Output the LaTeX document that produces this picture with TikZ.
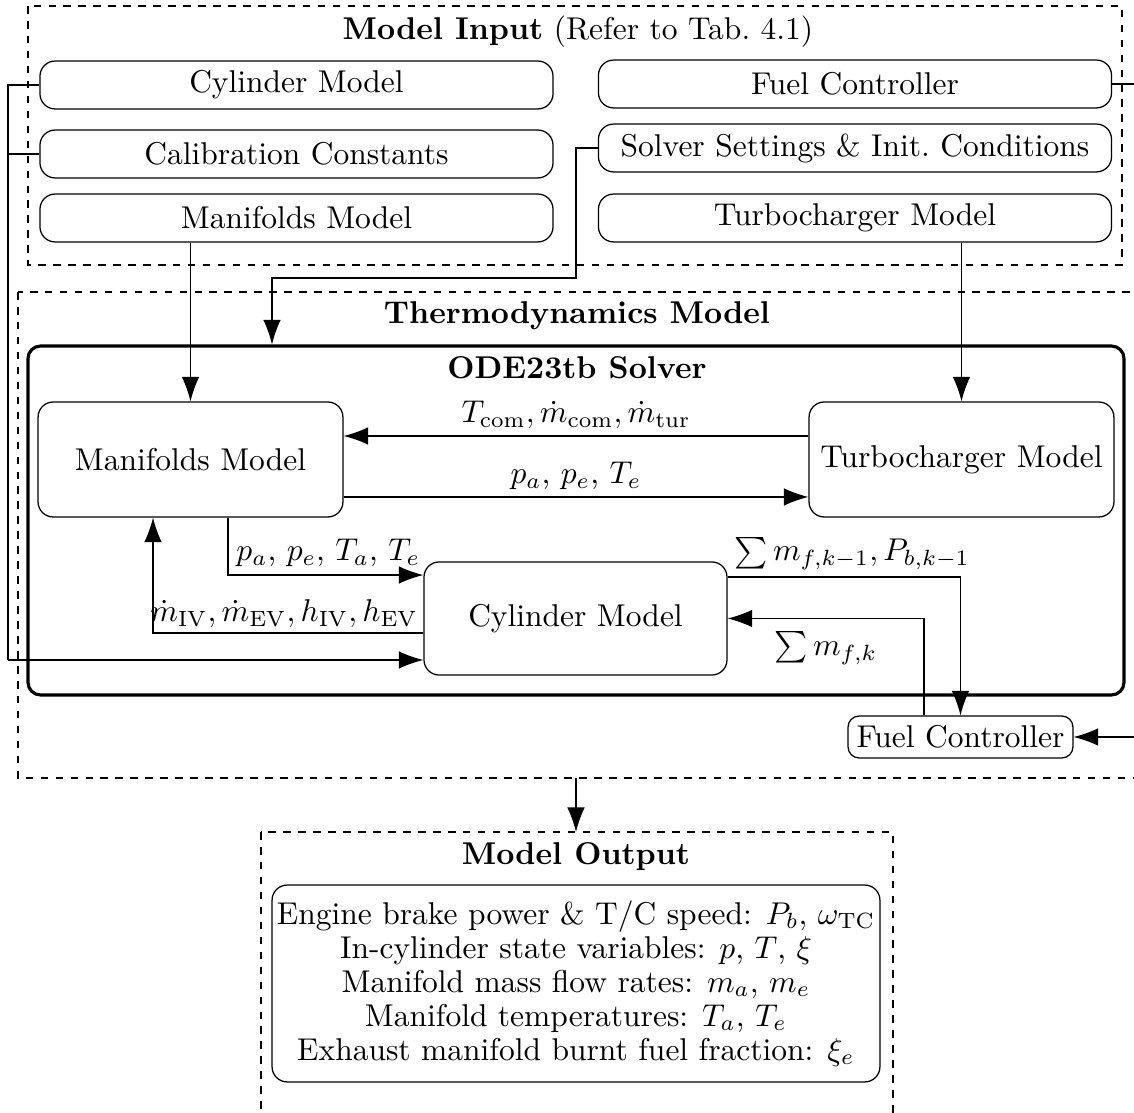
\documentclass[tikz,border=0pt]{standalone}
\usepackage{amsmath}
\usetikzlibrary{arrows.meta,calc}
\begin{document}
\begin{tikzpicture}[x=0.3175pt,y=-0.3175pt,
  inbox/.style={draw, rounded corners=4.8pt, minimum width=162.9pt, minimum height=15.2pt, inner sep=0pt},
  blockbox/.style={draw, rounded corners=4.8pt, minimum width=96.8pt, minimum height=36.5pt, inner sep=0pt},
  frame/.style={draw, line width=0.35pt, dash pattern=on 2.4pt off 2.35pt},
  flow/.style={-{Latex[length=7.8pt,width=5.6pt]}},
  lbl/.style={inner sep=2pt},
]
\useasboundingbox (0,0) rectangle (1134,1113);
\clip (0,0) rectangle (1134,1113);

% ---------------- model input ----------------
\draw[frame] (28,6) rectangle (1122,265);
\node (intitle) at (578,32) {\textbf{Model Input} (Refer to Tab.~4.1)};
\node[inbox] (icyl)   at (296.5,85)  {Cylinder Model};
\node[inbox] (ical)   at (296.5,154) {Calibration Constants};
\node[inbox] (iman)   at (296.5,218) {Manifolds Model};
\node[inbox] (ifuel)  at (855,84)    {Fuel Controller};
\node[inbox] (isolv)  at (855,148)   {Solver Settings \& Init.\ Conditions};
\node[inbox] (iturbo) at (855,218)   {Turbocharger Model};

% ---------------- thermodynamics model ----------------
\draw[frame] (18,292) rectangle (1150,778);
\node (thtitle) at (577,316) {\textbf{Thermodynamics Model}};
\node[draw, line width=1pt, rounded corners=4pt, minimum width=348pt, minimum height=110.8pt, inner sep=0pt] (solver) at (576,520.5) {};
\node (soltitle) at (577,368) {\textbf{ODE23tb Solver}};

\node[blockbox] (mm) at (190.5,459.5) {Manifolds Model};
\node[blockbox] (tc) at (961.5,459.5) {Turbocharger Model};
\node[blockbox, minimum width=96.2pt, minimum height=35.9pt] (cm) at (575.5,618.5) {Cylinder Model};
\node[draw, rounded corners=3.5pt, minimum width=71.4pt, minimum height=13.3pt, inner sep=0pt] (fc) at (960.5,737) {Fuel Controller};

% manifolds <-> turbocharger
\draw[flow] ([yshift=7.46pt]tc.west) -- node[above, lbl] {$T_{\mathrm{com}}, \dot{m}_{\mathrm{com}}, \dot{m}_{\mathrm{tur}}$} ([yshift=7.46pt]mm.east);
\draw[flow] ([yshift=-11.9pt]mm.east) -- node[above, lbl] {$p_a$, $p_e$, $T_e$} ([yshift=-11.9pt]tc.west);

% manifolds <-> cylinder
\draw[flow] ([xshift=11.9pt]mm.south) |- node[pos=0.5, anchor=south west, inner sep=2.5pt] {$p_a$, $p_e$, $T_a$, $T_e$} ([yshift=13.8pt]cm.west);
\draw[flow] ([yshift=-4.6pt]cm.west) node[anchor=south east, inner sep=1.5pt] {$\dot{m}_{\mathrm{IV}}, \dot{m}_{\mathrm{EV}}, h_{\mathrm{IV}}, h_{\mathrm{EV}}$} -| ([xshift=-11.9pt]mm.south);

% cylinder <-> fuel controller
\draw[flow] ([yshift=13.2pt]cm.east) node[anchor=south west, inner sep=2pt] {$\sum m_{f,k-1}, P_{b,k-1}$} -| (fc.north);
\draw[flow] ([xshift=-11.6pt]fc.north) |- node[pos=0.75, below, inner sep=4pt] {$\sum m_{f,k}$} (cm.east);

% inputs feeding the solver
\coordinate (bus) at (8,660);
\draw (icyl.west) -| (bus);
\draw (ical.west) -- (ical.west -| bus);
\draw[flow] (bus) -- (bus -| cm.west);

\coordinate (sk) at (576,278);
\coordinate (sdrop) at (272,278);
\draw[flow] (isolv.west) -| (sk) -- (sdrop) -- (sdrop |- solver.north);

\draw[flow] (iman.south -| mm.north) -- (mm.north);
\draw[flow] (iturbo.south -| tc.north) -- (tc.north);

\coordinate (rb) at (1150,84);
\draw[flow] (ifuel.east) -| (rb |- fc.east) -- (fc.east);

% ---------------- model output ----------------
\coordinate (thbot) at (576,778);
\coordinate (outtop) at (576,832);
\draw[flow] (thbot) -- (outtop);
\draw[frame] (261,832) rectangle (893,1150);
\node (outtitle) at (576,857) {\textbf{Model Output}};
\node[draw, rounded corners=4.8pt, minimum width=193pt, minimum height=62.5pt, align=center, inner sep=0pt,
      font=\fontsize{10}{10.8}\selectfont] (outbox) at (576,983.5)
  {Engine brake power \& T/C speed: $P_b$, $\omega_{\mathrm{TC}}$\\
   In-cylinder state variables: $p$, $T$, $\xi$\\
   Manifold mass flow rates: $m_a$, $m_e$\\
   Manifold temperatures: $T_a$, $T_e$\\
   Exhaust manifold burnt fuel fraction: $\xi_e$};
\end{tikzpicture}
\end{document}
